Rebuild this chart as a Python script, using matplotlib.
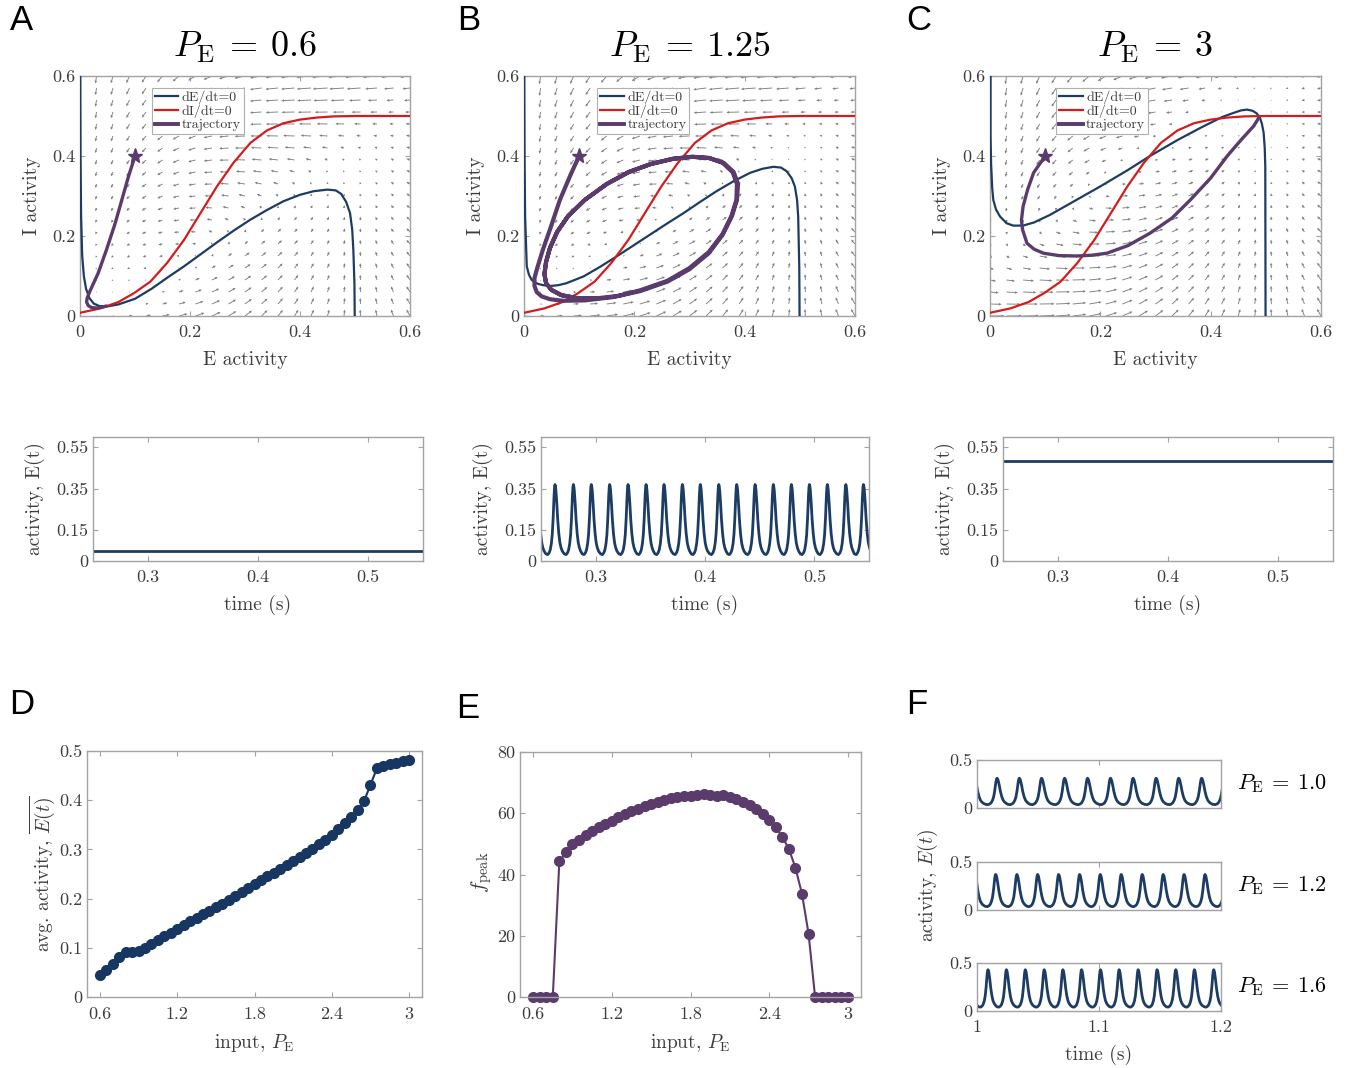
import numpy as np
import matplotlib
matplotlib.use("Agg")
import matplotlib.pyplot as plt
from matplotlib.lines import Line2D

plt.rcParams.update({
    "font.family": "serif",
    "font.serif": ["cmr10", "DejaVu Serif"],
    "mathtext.fontset": "cm",
    "axes.unicode_minus": False,
    "axes.formatter.use_mathtext": True,
})

# ---------------------------------------------------------------- data
PANEL_PE = [0.6, 1.25, 3.0]
PANEL_TITLES = [r"$P_{\rm E}\:=\:0.6$", r"$P_{\rm E}\:=\:1.25$", r"$P_{\rm E}\:=\:3$"]
PANEL_LETTERS = ["A", "B", "C", "D", "E", "F"]

# dI/dt = 0 nullcline (identical in the three panels)
INULL_E = [0.0, 0.037, 0.07, 0.098, 0.128, 0.158, 0.189, 0.219, 0.249, 0.279,
           0.31, 0.34, 0.37, 0.40, 0.43, 0.461, 0.5, 0.6]
INULL_I = [0.008, 0.019, 0.035, 0.057, 0.086, 0.132, 0.19, 0.257, 0.324, 0.383,
           0.433, 0.464, 0.482, 0.491, 0.496, 0.499, 0.5, 0.5]

# dE/dt = 0 nullclines
ENULL_A_E = [0.0005, 0.001, 0.002, 0.004, 0.007, 0.011, 0.017, 0.025, 0.035, 0.05,
             0.07, 0.1, 0.13, 0.16, 0.19, 0.22, 0.25, 0.28, 0.31, 0.34, 0.37, 0.40,
             0.425, 0.45, 0.465, 0.475, 0.484, 0.491, 0.495, 0.497, 0.499, 0.4995]
ENULL_A_I = [0.6, 0.4, 0.25, 0.15, 0.1, 0.068, 0.045, 0.031, 0.025, 0.024,
             0.029, 0.043, 0.068, 0.097, 0.125, 0.155, 0.185, 0.214, 0.241, 0.265, 0.287, 0.303,
             0.312, 0.316, 0.314, 0.305, 0.285, 0.257, 0.215, 0.165, 0.08, 0.0]
ENULL_B_E = [0.0005, 0.001, 0.002, 0.005, 0.009, 0.014, 0.02, 0.026, 0.035, 0.047,
             0.062, 0.077, 0.108, 0.138, 0.168, 0.198, 0.228, 0.258, 0.289, 0.319, 0.349,
             0.38, 0.41, 0.432, 0.452, 0.466, 0.476, 0.485, 0.491, 0.495, 0.497, 0.499, 0.4995]
ENULL_B_I = [0.6, 0.4, 0.25, 0.124, 0.103, 0.09, 0.084, 0.08, 0.077, 0.075,
             0.077, 0.082, 0.099, 0.123, 0.149, 0.176, 0.203, 0.23, 0.257, 0.285, 0.312,
             0.337, 0.358, 0.368, 0.373, 0.371, 0.362, 0.345, 0.324, 0.29, 0.249, 0.12, 0.0]
ENULL_C_E = [0.001, 0.001, 0.002, 0.004, 0.006, 0.011, 0.018, 0.03, 0.042, 0.06,
             0.08, 0.109, 0.15, 0.2, 0.25, 0.29, 0.34, 0.381, 0.42, 0.442, 0.455,
             0.466, 0.476, 0.483, 0.489, 0.493, 0.496, 0.498, 0.499, 0.4995]
ENULL_C_I = [0.6, 0.45, 0.38, 0.32, 0.29, 0.266, 0.249, 0.232, 0.226, 0.226,
             0.234, 0.253, 0.285, 0.324, 0.365, 0.4, 0.44, 0.47, 0.497, 0.508, 0.514,
             0.516, 0.513, 0.507, 0.497, 0.48, 0.458, 0.42, 0.374, 0.0]

# trajectories (start marked by a star)
TRAJ_A_E = [0.1, 0.088, 0.076, 0.064, 0.048, 0.033, 0.024, 0.018, 0.013, 0.012,
            0.015, 0.021, 0.03, 0.04, 0.048]
TRAJ_A_I = [0.4, 0.348, 0.29, 0.232, 0.165, 0.107, 0.08, 0.062, 0.045, 0.035,
            0.026, 0.021, 0.02, 0.022, 0.025]
TRAJ_B_E = [0.1, 0.085, 0.065, 0.048, 0.034, 0.024, 0.019, 0.019, 0.023, 0.032,
            0.047, 0.07, 0.11, 0.16, 0.21, 0.26, 0.30, 0.335, 0.36, 0.377,
            0.386, 0.388, 0.38, 0.362, 0.336, 0.305, 0.27, 0.23, 0.19, 0.15,
            0.11, 0.08, 0.06, 0.047, 0.04, 0.037, 0.04, 0.05, 0.068, 0.095,
            0.13, 0.17, 0.21, 0.26, 0.30, 0.335, 0.36, 0.376, 0.385, 0.386,
            0.378, 0.36, 0.335, 0.305, 0.27, 0.23, 0.19, 0.15, 0.11, 0.08,
            0.06, 0.047, 0.04, 0.037, 0.04, 0.05, 0.068, 0.095, 0.13]
TRAJ_B_I = [0.4, 0.355, 0.29, 0.22, 0.165, 0.12, 0.095, 0.075, 0.06, 0.049,
            0.042, 0.038, 0.039, 0.047, 0.062, 0.086, 0.117, 0.157, 0.203, 0.25,
            0.29, 0.33, 0.36, 0.383, 0.395, 0.398, 0.393, 0.38, 0.36, 0.33,
            0.29, 0.25, 0.21, 0.17, 0.135, 0.105, 0.082, 0.065, 0.052, 0.045,
            0.044, 0.05, 0.064, 0.088, 0.12, 0.16, 0.205, 0.25, 0.29, 0.33,
            0.36, 0.383, 0.395, 0.398, 0.393, 0.38, 0.36, 0.33, 0.29, 0.25,
            0.21, 0.17, 0.135, 0.105, 0.082, 0.065, 0.052, 0.045, 0.044]
TRAJ_C_E = [0.1, 0.079, 0.068, 0.06, 0.057, 0.059, 0.067, 0.08, 0.097, 0.125,
            0.157, 0.185, 0.212, 0.25, 0.29, 0.33, 0.363, 0.4, 0.43, 0.455,
            0.478, 0.487]
TRAJ_C_I = [0.4, 0.358, 0.315, 0.274, 0.24, 0.216, 0.182, 0.167, 0.157, 0.151,
            0.15, 0.152, 0.157, 0.176, 0.207, 0.245, 0.29, 0.345, 0.4, 0.44,
            0.475, 0.495]
TRAJ_START = (0.1, 0.4)

# Model used only for the background direction field
SIG_GAIN_E, W_EE, W_EI, THETA_E = 1.67, 15.6, 12.0, 2.4
SIG_GAIN_I, THETA_I = 19.0, 0.212
TAU_E, TAU_I = 1.0, 2.0
QUIVER_STEP = 0.03

# time courses, E(t)
FIXED_T = [0.25, 0.55]
FIXED_A_E = [0.046, 0.046]
FIXED_C_E = [0.482, 0.482]
PEAKS_B = [0.2628, 0.2796, 0.2960, 0.3128, 0.3296, 0.3461, 0.3625, 0.3793, 0.3957,
           0.4126, 0.4290, 0.4458, 0.4625, 0.4790, 0.4955, 0.5119, 0.5288, 0.5449]
PERIOD_B, PEAK_B, TROUGH_B = 0.0166, 0.37, 0.031

PEAKS_F = [
    [1.0164, 1.0347, 1.0529, 1.0718, 1.0906, 1.1094, 1.1279, 1.1468, 1.1653, 1.1841],
    [1.0153, 1.0327, 1.0497, 1.0669, 1.0841, 1.1010, 1.1182, 1.1354, 1.1526, 1.1697, 1.1869],
    [1.0090, 1.0241, 1.0396, 1.0551, 1.0704, 1.0857, 1.1012, 1.1165, 1.1321, 1.1476,
     1.1629, 1.1782, 1.1940],
]
PERIOD_F = [0.0186, 0.0172, 0.0154]
PEAK_F = [0.31, 0.37, 0.43]
TROUGH_F = [0.035, 0.035, 0.04]
LABEL_F = [r"$P_{\rm E}\:=\:1.0$", r"$P_{\rm E}\:=\:1.2$", r"$P_{\rm E}\:=\:1.6$"]

# one oscillation cycle, normalised (phase relative to the peak, level 0..1)
SHAPE_PHASE = [-0.5, -0.4, -0.32, -0.26, -0.2, -0.15, -0.1, -0.05, -0.022, 0.0,
               0.022, 0.05, 0.1, 0.15, 0.21, 0.27, 0.33, 0.4]
SHAPE_LEVEL = [0.01, 0.0, 0.027, 0.07, 0.16, 0.29, 0.53, 0.85, 0.97, 1.0,
               0.98, 0.92, 0.73, 0.5, 0.3, 0.17, 0.1, 0.05]

# D and E sweeps
PE_SWEEP = [0.60, 0.65, 0.70, 0.75, 0.80, 0.85, 0.90, 0.95, 1.00, 1.05,
            1.10, 1.15, 1.20, 1.25, 1.30, 1.35, 1.40, 1.45, 1.50, 1.55,
            1.60, 1.65, 1.70, 1.75, 1.80, 1.85, 1.90, 1.95, 2.00, 2.05,
            2.10, 2.15, 2.20, 2.25, 2.30, 2.35, 2.40, 2.45, 2.50, 2.55,
            2.60, 2.65, 2.70, 2.75, 2.80, 2.85, 2.90, 2.95, 3.00]
AVG_E = [0.0455, 0.0556, 0.068, 0.081, 0.091, 0.091, 0.094, 0.100, 0.107, 0.115,
         0.123, 0.131, 0.139, 0.146, 0.154, 0.161, 0.168, 0.175, 0.183, 0.190,
         0.198, 0.206, 0.213, 0.221, 0.229, 0.237, 0.245, 0.252, 0.260, 0.268,
         0.276, 0.284, 0.293, 0.301, 0.310, 0.319, 0.330, 0.342, 0.354, 0.366,
         0.381, 0.398, 0.431, 0.465, 0.469, 0.473, 0.476, 0.479, 0.482]
F_PEAK = [0, 0, 0, 0, 44.3, 47.3, 49.8, 51.4, 52.8, 54.2,
          55.5, 56.6, 57.5, 58.8, 59.8, 60.7, 61.5, 62.3, 63.1, 63.7,
          64.4, 64.9, 65.3, 65.6, 65.6, 65.8, 66.4, 65.8, 65.7, 65.8,
          65.3, 64.6, 63.7, 62.6, 61.5, 59.8, 57.7, 55.5, 52.2, 48.4,
          42.2, 33.7, 20.7, 0, 0, 0, 0, 0, 0]

# tick labels
PP_TICKS = [0, 0.2, 0.4, 0.6]
PP_TICKLABELS = ["0", "0.2", "0.4", "0.6"]
TS_YTICKS = [0, 0.15, 0.35, 0.55]
TS_YTICKLABELS = ["0", "0.15", "0.35", "0.55"]
TS_XTICKS = [0.3, 0.4, 0.5]
TS_XTICKLABELS = ["0.3", "0.4", "0.5"]
SW_XTICKS = [0.6, 1.2, 1.8, 2.4, 3.0]
SW_XTICKLABELS = ["0.6", "1.2", "1.8", "2.4", "3"]
D_YTICKS = [0, 0.1, 0.2, 0.3, 0.4, 0.5]
D_YTICKLABELS = ["0", "0.1", "0.2", "0.3", "0.4", "0.5"]
E_YTICKS = [0, 20, 40, 60, 80]
E_YTICKLABELS = ["0", "20", "40", "60", "80"]
F_XTICKS = [1.0, 1.1, 1.2]
F_XTICKLABELS = ["1", "1.1", "1.2"]
F_YTICKS = [0, 0.5]
F_YTICKLABELS = ["0", "0.5"]

# ---------------------------------------------------------------- style
BLUE = "#1d3c63"
RED = "#d41c1c"
PURPLE = "#5b3b6c"
NAVY = "#173661"
SPINE = "#a3a3a3"
TXT = "#3c3c3c"
QUIV = "#7d7d7d"

W, H = 1356, 1068
fig = plt.figure(figsize=(W / 100, H / 100), dpi=100)


def ax_px(l, t, r, b):
    return fig.add_axes([l / W, 1 - b / H, (r - l) / W, (b - t) / H])


def ftxt(x, y, s, **kw):
    kw.setdefault("ha", "center")
    kw.setdefault("va", "center")
    kw.setdefault("color", TXT)
    fig.text(x / W, 1 - y / H, s, **kw)


def style(ax, xt, xtl, yt, ytl, fs=13, xpad=6.5, ypad=3.5):
    ax.set_xticks(xt)
    ax.set_xticklabels(xtl)
    ax.set_yticks(yt)
    ax.set_yticklabels(ytl)
    ax.tick_params(direction="in", top=True, right=True, length=3.5, width=0.8,
                   color=SPINE, labelcolor=TXT, labelsize=fs)
    ax.tick_params(axis="x", pad=xpad)
    ax.tick_params(axis="y", pad=ypad)
    for s in ax.spines.values():
        s.set_color(SPINE)
        s.set_linewidth(1.0)


def periodic_trace(peaks, period, peak, trough):
    ts, vs = [], []
    starts = [peaks[0] - period] + list(peaks) + [peaks[-1] + period]
    for tp in starts:
        for ph, lv in zip(SHAPE_PHASE, SHAPE_LEVEL):
            ts.append(tp + ph * period)
            vs.append(trough + (peak - trough) * lv)
    return ts, vs


# ---------------------------------------------------------------- phase planes
pp_boxes = [(80, 76, 410, 316), (524, 76, 855, 316), (990, 76, 1321, 316)]
enulls = [(ENULL_A_E, ENULL_A_I), (ENULL_B_E, ENULL_B_I), (ENULL_C_E, ENULL_C_I)]
trajs = [(TRAJ_A_E, TRAJ_A_I, 2.4), (TRAJ_B_E, TRAJ_B_I, 3.0), (TRAJ_C_E, TRAJ_C_I, 2.4)]
legend_anchor = [(0.218, 0.952), (0.222, 0.952), (0.2, 0.952)]

grid = np.arange(0, 0.6 + 1e-9, QUIVER_STEP)
EE, II = np.meshgrid(grid, grid)

for k in range(3):
    l, t, r, b = pp_boxes[k]
    ax = ax_px(l, t, r, b)
    P = PANEL_PE[k]
    dE = (-EE + 0.5 / (1 + np.exp(-SIG_GAIN_E * (W_EE * EE - W_EI * II + P - THETA_E))))/TAU_E
    dI = (-II + 0.5 / (1 + np.exp(-SIG_GAIN_I * (EE - THETA_I)))) / TAU_I
    maxlen = np.max(np.hypot(dE, dI)) / QUIVER_STEP
    ax.quiver(EE, II, dE, dI, angles="xy", scale_units="xy", scale=maxlen / 0.95,
              color=QUIV, width=0.0027, headwidth=3.0, headlength=3.2, headaxislength=3.0,
              zorder=1)
    ax.plot(enulls[k][0], enulls[k][1], color=BLUE, lw=1.6, zorder=3)
    ax.plot(INULL_E, INULL_I, color=RED, lw=1.6, zorder=3)
    te, ti, lw = trajs[k]
    ax.plot(te, ti, color=PURPLE, lw=lw, zorder=4, solid_capstyle="round")
    ax.plot([TRAJ_START[0]], [TRAJ_START[1]], marker="*", ms=11, color=PURPLE,
            mec=PURPLE, zorder=5)
    ax.set_xlim(0, 0.6)
    ax.set_ylim(0, 0.6)
    style(ax, PP_TICKS, PP_TICKLABELS, PP_TICKS, PP_TICKLABELS)
    handles = [Line2D([], [], color=BLUE, lw=1.6), Line2D([], [], color=RED, lw=1.6),
               Line2D([], [], color=PURPLE, lw=2.8)]
    leg = ax.legend(handles, ["dE/dt=0", "dI/dt=0", "trajectory"], loc="upper left",
                    bbox_to_anchor=legend_anchor[k], fontsize=10, handlelength=1.7,
                    handletextpad=0.25, borderpad=0.2, labelspacing=0.05,
                    fancybox=False, framealpha=1, borderaxespad=0)
    leg.get_frame().set_edgecolor("#b0b0b0")
    leg.get_frame().set_linewidth(0.8)
    for tx in leg.get_texts():
        tx.set_color(TXT)
    cx = (l + r) / 2
    ftxt(cx, 47, PANEL_TITLES[k], fontsize=26, color="black")
    ftxt(cx, 360, "E activity", fontsize=14)
    ftxt(l - 48, (t + b) / 2, "I activity", fontsize=14, rotation=90)

# ---------------------------------------------------------------- time courses
ts_boxes = [(93, 437, 423, 561), (541, 437, 869, 561), (1003, 437, 1333, 561)]
tb, vb = periodic_trace(PEAKS_B, PERIOD_B, PEAK_B, TROUGH_B)
series = [(FIXED_T, FIXED_A_E), (tb, vb), (FIXED_T, FIXED_C_E)]
for k in range(3):
    l, t, r, b = ts_boxes[k]
    ax = ax_px(l, t, r, b)
    ax.plot(series[k][0], series[k][1], color=BLUE, lw=2.0)
    ax.set_xlim(0.25, 0.55)
    ax.set_ylim(0, 0.6)
    style(ax, TS_XTICKS, TS_XTICKLABELS, TS_YTICKS, TS_YTICKLABELS)
    ftxt((l + r) / 2, 605, "time (s)", fontsize=14)
    ftxt(l - 58, (t + b) / 2, "activity, E(t)", fontsize=14, rotation=90)

# ---------------------------------------------------------------- D
ax = ax_px(87, 751, 422, 997)
ax.plot(PE_SWEEP, AVG_E, "-o", color=NAVY, ms=7, lw=1.5, mec=NAVY, mfc=NAVY)
ax.set_xlim(0.5, 3.1)
ax.set_ylim(0, 0.5)
style(ax, SW_XTICKS, SW_XTICKLABELS, D_YTICKS, D_YTICKLABELS, xpad=7)
ftxt(254, 1043, r"input, $P_{\rm E}$", fontsize=14)
ftxt(42, 874, r"avg. activity, $\overline{E(t)}$", fontsize=14, rotation=90)

# ---------------------------------------------------------------- E
ax = ax_px(520, 752, 861, 997)
ax.plot(PE_SWEEP, F_PEAK, "-o", color=PURPLE, ms=7, lw=1.5, mec=PURPLE, mfc=PURPLE,
        clip_on=False)
ax.set_xlim(0.5, 3.1)
ax.set_ylim(0, 80)
style(ax, SW_XTICKS, SW_XTICKLABELS, E_YTICKS, E_YTICKLABELS, xpad=7)
ftxt(690, 1043, r"input, $P_{\rm E}$", fontsize=14)
ftxt(482, 872, r"$f_{\rm peak}$", fontsize=15, rotation=90)

# ---------------------------------------------------------------- F
f_boxes = [(977, 760, 1221, 808), (977, 862, 1221, 910), (977, 963, 1221, 1011)]
for k in range(3):
    l, t, r, b = f_boxes[k]
    ax = ax_px(l, t, r, b)
    tf, vf = periodic_trace(PEAKS_F[k], PERIOD_F[k], PEAK_F[k], TROUGH_F[k])
    ax.plot(tf, vf, color=BLUE, lw=2.0)
    ax.set_xlim(1.0, 1.2)
    ax.set_ylim(0, 0.5)
    style(ax, F_XTICKS, F_XTICKLABELS if k == 2 else ["", "", ""], F_YTICKS, F_YTICKLABELS)
    ftxt(1237, (t + b) / 2, LABEL_F[k], fontsize=16, ha="left", color="black")
ftxt(1099, 1055, "time (s)", fontsize=14)
ftxt(928, 885, r"activity, $E(t)$", fontsize=14, rotation=90)

# ---------------------------------------------------------------- letters
letter_pos = [(21, 21), (469, 21), (919, 21), (22, 704), (468, 709), (917, 705)]
for s, (x, y) in zip(PANEL_LETTERS, letter_pos):
    ftxt(x, y, s, fontsize=25, family="Liberation Sans", color="black")

fig.savefig("out.png", dpi=100)
